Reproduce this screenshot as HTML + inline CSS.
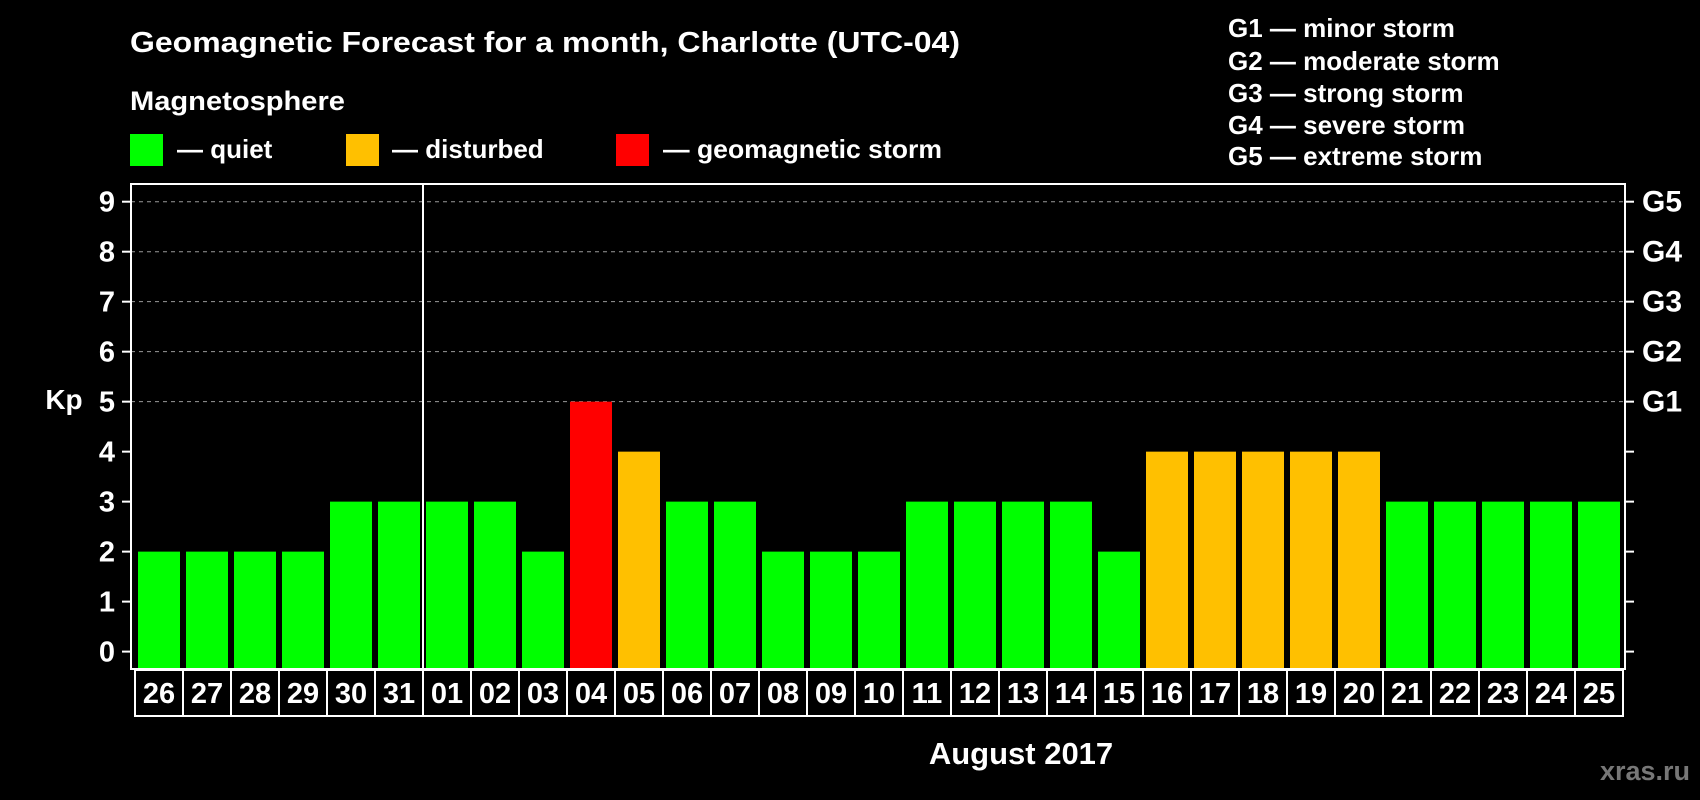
<!DOCTYPE html>
<html><head><meta charset="utf-8"><style>
html,body{margin:0;padding:0;background:#000;width:1700px;height:800px;overflow:hidden}
svg{display:block;font-family:"Liberation Sans",Arial,sans-serif;font-weight:bold}
</style></head><body>
<svg id="chart" width="1700" height="800" viewBox="0 0 1700 800" xmlns="http://www.w3.org/2000/svg">
<rect width="1700" height="800" fill="#000"/>
<text x="130" y="52" fill="#fff" font-size="29" textLength="830" lengthAdjust="spacingAndGlyphs">Geomagnetic Forecast for a month, Charlotte (UTC-04)</text>
<text x="130" y="110" fill="#fff" font-size="27" textLength="215" lengthAdjust="spacingAndGlyphs">Magnetosphere</text>
<g>
<rect x="130" y="134" width="33" height="32" fill="#00ff00"/>
<text x="177" y="158" fill="#fff" font-size="26">— quiet</text></g>
<g>
<rect x="346" y="134" width="33" height="32" fill="#ffc000"/>
<text x="392" y="158" fill="#fff" font-size="26">— disturbed</text></g>
<g>
<rect x="616" y="134" width="33" height="32" fill="#ff0000"/>
<text x="663" y="158" fill="#fff" font-size="26" textLength="279" lengthAdjust="spacingAndGlyphs">— geomagnetic storm</text></g>
<g fill="#fff" font-size="26">
<text x="1228" y="37">G1 — minor storm</text>
<text x="1228" y="70">G2 — moderate storm</text>
<text x="1228" y="102">G3 — strong storm</text>
<text x="1228" y="134">G4 — severe storm</text>
<text x="1228" y="165">G5 — extreme storm</text>
</g>
<g id="grid"></g>
<g id="bars"></g>
<rect x="131" y="184" width="1494" height="485" fill="none" stroke="#fff" stroke-width="2"/>
<line x1="423" y1="184" x2="423" y2="669" stroke="#fff" stroke-width="2"/>
<g id="axes"></g>
<g id="xlabels"></g>
<text x="64" y="409" fill="#fff" font-size="28" text-anchor="middle">Kp</text>
<text x="1021" y="764" fill="#fff" font-size="31" text-anchor="middle">August 2017</text>
<text x="1690" y="780" fill="#777" font-size="27" text-anchor="end">xras.ru</text>
</svg>
<script>
const days = ["26","27","28","29","30","31","01","02","03","04","05","06","07","08","09","10","11","12","13","14","15","16","17","18","19","20","21","22","23","24","25"];
const kpValues = [2,2,2,2,3,3,3,3,2,5,4,3,3,2,2,2,3,3,3,3,2,4,4,4,4,4,3,3,3,3,3];
const yTicks = [0,1,2,3,4,5,6,7,8,9];
const gLabels = ["","","","","","G1","G2","G3","G4","G5"];
const NS="http://www.w3.org/2000/svg";
const y0=651.6, unit=(651.6-201.7)/9;
const yScale=v=>y0-v*unit;
const x0=135, pitch=48, barW=42;
const xScale=i=>x0+i*pitch;
function mk(tag,attrs,parent){const e=document.createElementNS(NS,tag);for(const k in attrs)e.setAttribute(k,attrs[k]);parent.appendChild(e);return e;}
const grid=document.getElementById('grid'),axes=document.getElementById('axes'),bars=document.getElementById('bars'),xl=document.getElementById('xlabels');
yTicks.forEach((t,i)=>{
  const y=yScale(t);
  if(t>=5){const l=mk('line',{x1:131,x2:1625,y1:y,y2:y,stroke:'#999','stroke-dasharray':'4,4','stroke-width':1},grid);
    
    }
  mk('line',{x1:122,x2:131,y1:y,y2:y,stroke:'#fff','stroke-width':2},axes);
  mk('line',{x1:1625,x2:1634,y1:y,y2:y,stroke:'#fff','stroke-width':2},axes);
  const tx=mk('text',{x:115,y:y+10,fill:'#fff','font-size':29,'text-anchor':'end'},axes);
  tx.textContent=t;
  
  
  if(gLabels[i]){const g=mk('text',{x:1642,y:y+10,fill:'#fff','font-size':30},axes);
    g.textContent=gLabels[i];
    
    }
});
kpValues.forEach((v,i)=>{
  const c=v>=5?'#ff0000':(v>=4?'#ffc000':'#00ff00');
  const r=mk('rect',{x:xScale(i)+3,y:yScale(v),width:barW,height:668-yScale(v),fill:c},bars);
  
  
  const cell=mk('rect',{x:xScale(i),y:670,width:pitch,height:46,fill:'none',stroke:'#fff','stroke-width':2},xl);
  
  
  const t=mk('text',{x:xScale(i)+pitch/2,y:703,fill:'#fff','font-size':29,'text-anchor':'middle'},xl);
  t.textContent=days[i];
  
  
});
</script>
</body></html>
